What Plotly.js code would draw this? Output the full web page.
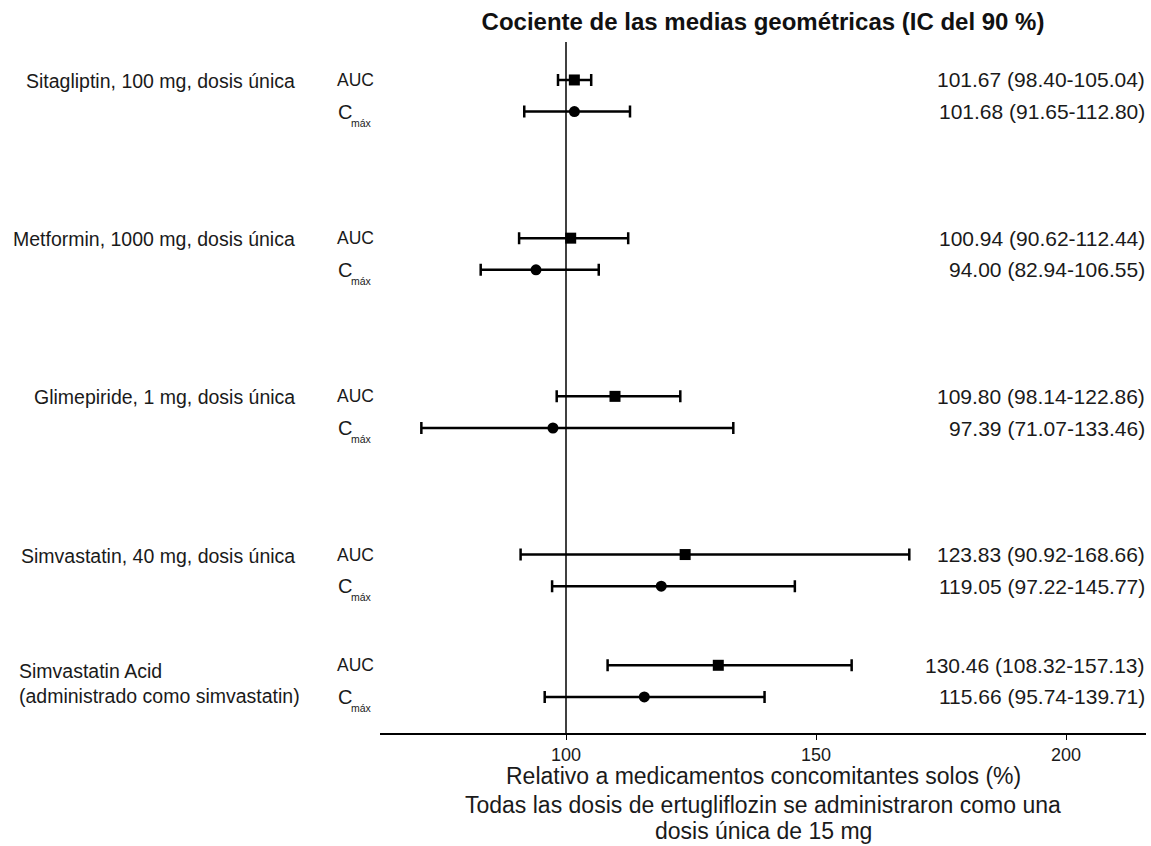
<!DOCTYPE html>
<html><head><meta charset="utf-8">
<script src="https://cdn.plot.ly/plotly-3.0.1.min.js"></script>
<style>body{margin:0;background:#fff}#c{width:1151px;height:846px}</style>
</head><body><div id="c"></div>
<script>
const groupLabels = ["Sitagliptin, 100 mg, dosis única","Metformin, 1000 mg, dosis única","Glimepiride, 1 mg, dosis única","Simvastatin, 40 mg, dosis única","Simvastatin Acid<br>(administrado como simvastatin)"];
const aucGmr = [101.67, 100.94, 109.80, 123.83, 130.46];
const aucLo  = [98.40, 90.62, 98.14, 90.92, 108.32];
const aucHi  = [105.04, 112.44, 122.86, 168.66, 157.13];
const cmaxGmr = [101.68, 94.00, 97.39, 119.05, 115.66];
const cmaxLo  = [91.65, 82.94, 71.07, 97.22, 95.74];
const cmaxHi  = [112.80, 106.55, 133.46, 145.77, 139.71];
const xTicks = [100, 150, 200];
const refValue = 100;

// Build categorical rows with spacer slots
const gapAfter = [7, 7, 7, 4, 0];
const cats = [];
const aucKeys = [], cmaxKeys = [];
let sp = 0;
groupLabels.forEach((g, i) => {
  const a = "auc" + i, c = "cmax" + i;
  aucKeys.push(a); cmaxKeys.push(c);
  cats.push(a); cats.push("sp" + (sp++)); cats.push(c);
  for (let k = 0; k < gapAfter[i]; k++) cats.push("sp" + (sp++));
});

const fontFam = "Liberation Sans, Arial, sans-serif";
const txtCol = "#1a1a1a";

const traces = [
  {
    type: "scatter", mode: "markers", x: aucGmr, y: aucKeys,
    marker: {symbol: "square", size: 11, color: "#000"},
    error_x: {type: "data", symmetric: false,
      array: aucGmr.map((v, i) => aucHi[i] - v),
      arrayminus: aucGmr.map((v, i) => v - aucLo[i]),
      color: "#000", thickness: 2.5, width: 6},
    hoverinfo: "skip", showlegend: false
  },
  {
    type: "scatter", mode: "markers", x: cmaxGmr, y: cmaxKeys,
    marker: {symbol: "circle", size: 11, color: "#000"},
    error_x: {type: "data", symmetric: false,
      array: cmaxGmr.map((v, i) => cmaxHi[i] - v),
      arrayminus: cmaxGmr.map((v, i) => v - cmaxLo[i]),
      color: "#000", thickness: 2.5, width: 6},
    hoverinfo: "skip", showlegend: false
  }
];

const annotations = [];
const f2 = v => v.toFixed(2);
groupLabels.forEach((g, i) => {
  const last = i === groupLabels.length - 1;
  annotations.push({
    xref: "paper", yref: last ? "paper" : "y",
    x: last ? -0.4739 : -0.1084,
    xanchor: last ? "left" : "right",
    y: last ? (733 - 683) / 691 : aucKeys[i],
    yanchor: "middle", align: "left",
    text: g, showarrow: false, yshift: last ? 0 : -1,
    font: {family: fontFam, size: 19.5, color: txtCol}
  });
  annotations.push({
    xref: "paper", yref: "y", x: -0.0587, xanchor: "left", y: aucKeys[i], yanchor: "middle",
    text: "AUC", showarrow: false, font: {family: fontFam, size: 17.5, color: txtCol}
  });
  annotations.push({
    xref: "paper", yref: "y", x: -0.0575, xanchor: "left", y: cmaxKeys[i], yanchor: "middle",
    text: "C", showarrow: false, yshift: 0,
    font: {family: fontFam, size: 20, color: txtCol}
  });
  annotations.push({
    xref: "paper", yref: "y", x: -0.0405, xanchor: "left", y: cmaxKeys[i], yanchor: "middle",
    text: "máx", showarrow: false, yshift: -11,
    font: {family: fontFam, size: 10.5, color: txtCol}
  });
  annotations.push({
    xref: "paper", yref: "y", x: 1.0013, xanchor: "right", y: aucKeys[i], yanchor: "middle",
    text: f2(aucGmr[i]) + " (" + f2(aucLo[i]) + "-" + f2(aucHi[i]) + ")", showarrow: false,
    font: {family: fontFam, size: 21, color: txtCol}
  });
  annotations.push({
    xref: "paper", yref: "y", x: 1.0013, xanchor: "right", y: cmaxKeys[i], yanchor: "middle",
    text: f2(cmaxGmr[i]) + " (" + f2(cmaxLo[i]) + "-" + f2(cmaxHi[i]) + ")", showarrow: false,
    font: {family: fontFam, size: 21, color: txtCol}
  });
});
const bottomLines = [
  ["Relativo a medicamentos concomitantes solos (%)", 776],
  ["Todas las dosis de ertugliflozin se administraron como una", 805],
  ["dosis única de 15 mg", 831]
];
bottomLines.forEach(([t, py]) => annotations.push({
  xref: "paper", yref: "paper", x: 0.5, xanchor: "center",
  y: -(py - 733) / 691, yanchor: "middle", text: t, showarrow: false,
  font: {family: fontFam, size: 23, color: txtCol}
}));

const layout = {
  width: 1151, height: 846,
  margin: {l: 380, r: 5, t: 42, b: 113},
  paper_bgcolor: "#fff", plot_bgcolor: "#fff",
  title: {text: "Cociente de las medias geométricas (IC del 90 %)",
    x: 0.5, xref: "paper", xanchor: "center", y: 1 - 22 / 846, yanchor: "middle",
    font: {family: fontFam, size: 24, color: "#111", weight: "bold"}},
  xaxis: {range: [62.8, 216], tickvals: xTicks, ticktext: xTicks.map(String),
    showgrid: false, zeroline: false, showline: true, linecolor: "#000", linewidth: 1.5,
    ticks: "outside", ticklen: 5, tickcolor: "#000", tickwidth: 1,
    tickfont: {family: fontFam, size: 18, color: txtCol}, fixedrange: true},
  yaxis: {type: "category", categoryorder: "array", categoryarray: cats,
    range: [41.28, -2.4], showticklabels: false, ticks: "", showgrid: false,
    zeroline: false, showline: false, fixedrange: true},
  shapes: [{type: "line", xref: "x", yref: "paper", x0: refValue, x1: refValue, y0: 0, y1: 1,
    line: {color: "#000", width: 1.5}, layer: "below"}],
  annotations: annotations
};
Plotly.newPlot("c", traces, layout, {staticPlot: true, displayModeBar: false});
</script></body></html>
